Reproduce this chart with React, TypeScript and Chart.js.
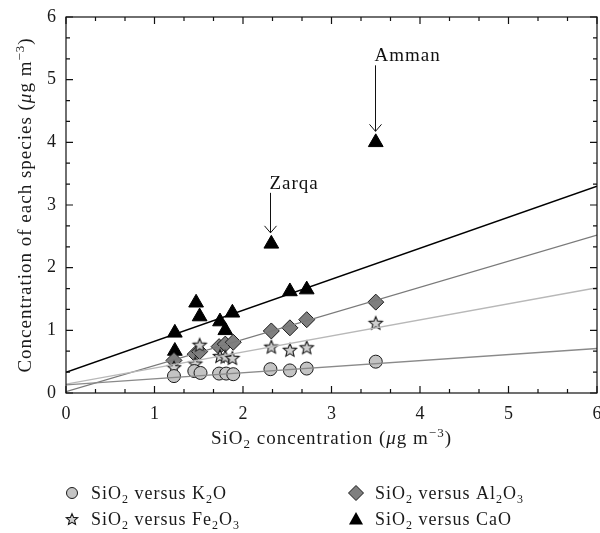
import React, { useEffect, useRef } from "react";
import { Chart, registerables } from "chart.js";

Chart.register(...registerables);

const FONT = '"Liberation Serif", "DejaVu Serif", serif';

// ---- data ----
const xTickValues = [0, 1, 2, 3, 4, 5, 6];
const yTickValues = [0, 1, 2, 3, 4, 5, 6];

const k2oX = [1.22, 1.45, 1.52, 1.73, 1.81, 1.89, 2.31, 2.53, 2.72, 3.5];
const k2oY = [0.27, 0.35, 0.32, 0.31, 0.31, 0.3, 0.38, 0.36, 0.39, 0.5];

const fe2o3X = [1.22, 1.46, 1.51, 1.74, 1.8, 1.88, 2.32, 2.53, 2.72, 3.5];
const fe2o3Y = [0.41, 0.47, 0.77, 0.59, 0.58, 0.56, 0.74, 0.69, 0.73, 1.12];

const al2o3X = [1.22, 1.46, 1.51, 1.73, 1.8, 1.89, 2.32, 2.53, 2.72, 3.5];
const al2o3Y = [0.52, 0.62, 0.66, 0.74, 0.78, 0.81, 0.99, 1.04, 1.17, 1.45];

const caoX = [1.23, 1.23, 1.47, 1.51, 1.74, 1.8, 1.88, 2.32, 2.53, 2.72, 3.5];
const caoY = [0.96, 0.67, 1.44, 1.22, 1.14, 1.0, 1.28, 2.38, 1.62, 1.65, 4.0];

const fitX = [0, 6];
const k2oFit = [0.13, 0.71];
const fe2o3Fit = [0.14, 1.68];
const al2o3Fit = [0.02, 2.52];
const caoFit = [0.33, 3.3];

const annotationNames = ["Amman", "Zarqa"];
const annotationX = [3.5, 2.32];
const annotationY = [4.0, 2.38];

// markup: _x subscript (one char), ^{..} superscript, $..$ italic
const legendLabels = [
  "SiO_2 versus K_2O",
  "SiO_2 versus Al_2O_3",
  "SiO_2 versus Fe_2O_3",
  "SiO_2 versus CaO",
];
const xTitle = "SiO_2 concentration ($μ$g m^{−3})";
const yTitle = "Concentration of each species ($μ$g m^{−3})";

const plain = (s: string) =>
  s.replace(/\$/g, "").replace(/_(.)/g, (_, c) => "₀₁₂₃₄₅₆₇₈₉"[+c] ?? c).replace(/\^\{([^}]*)\}/g, "$1");

type Seg = { t: string; k: "n" | "sub" | "sup" | "it" };
function parse(s: string): Seg[] {
  const out: Seg[] = [];
  let buf = "";
  const flush = () => {
    if (buf) out.push({ t: buf, k: "n" });
    buf = "";
  };
  for (let i = 0; i < s.length; i++) {
    const c = s[i];
    if (c === "_") {
      flush();
      out.push({ t: s[i + 1], k: "sub" });
      i++;
    } else if (c === "^" && s[i + 1] === "{") {
      flush();
      const j = s.indexOf("}", i);
      out.push({ t: s.slice(i + 2, j), k: "sup" });
      i = j;
    } else if (c === "$") {
      flush();
      const j = s.indexOf("$", i + 1);
      out.push({ t: s.slice(i + 1, j), k: "it" });
      i = j;
    } else buf += c;
  }
  flush();
  return out;
}

function segFont(k: string, size: number) {
  if (k === "sub" || k === "sup") return `${Math.round(size * 0.68)}px ${FONT}`;
  if (k === "it") return `italic ${size}px ${FONT}`;
  return `${size}px ${FONT}`;
}

function drawRich(
  ctx: CanvasRenderingContext2D,
  s: string,
  x: number,
  y: number,
  size: number,
  align: "left" | "center",
  spacing = 1
) {
  const segs = parse(s);
  ctx.save();
  ctx.textBaseline = "alphabetic";
  ctx.textAlign = "left";
  (ctx as any).letterSpacing = `${spacing}px`;
  let total = 0;
  const widths = segs.map((g) => {
    ctx.font = segFont(g.k, size);
    const w = ctx.measureText(g.t).width;
    total += w;
    return w;
  });
  let cx = align === "center" ? x - total / 2 : x;
  segs.forEach((g, i) => {
    ctx.font = segFont(g.k, size);
    let dy = 0;
    if (g.k === "sub") dy = size * 0.22;
    if (g.k === "sup") dy = -size * 0.38;
    ctx.fillText(g.t, cx, y + dy);
    cx += widths[i];
  });
  ctx.restore();
}

function makeStar(r: number) {
  const c = document.createElement("canvas");
  const s = Math.ceil(r * 2 + 4);
  c.width = s;
  c.height = s;
  const ctx = c.getContext("2d")!;
  const cx = s / 2;
  const cy = s / 2 + r * 0.1;
  ctx.beginPath();
  for (let i = 0; i < 10; i++) {
    const rr = i % 2 === 0 ? r : r * 0.45;
    const a = -Math.PI / 2 + (i * Math.PI) / 5;
    const px = cx + rr * Math.cos(a);
    const py = cy + rr * Math.sin(a);
    if (i === 0) ctx.moveTo(px, py);
    else ctx.lineTo(px, py);
  }
  ctx.closePath();
  ctx.fillStyle = "#cfcfcf";
  ctx.fill();
  ctx.strokeStyle = "#1a1a1a";
  ctx.lineWidth = 1.1;
  ctx.stroke();
  return c;
}

const decorPlugin = {
  id: "decor",
  afterDatasetsDraw(chart: any) {
    const ctx: CanvasRenderingContext2D = chart.ctx;
    const { left, right, top, bottom } = chart.chartArea;
    const xs = chart.scales.x;
    const ys = chart.scales.y;
    ctx.save();
    ctx.strokeStyle = "#111";
    ctx.lineWidth = 1.2;
    ctx.strokeRect(left, top, right - left, bottom - top);
    // ticks (inside) on four sides
    for (let v = 0; v <= 6.0001; v += 1 / 3) {
      const major = Math.abs(v - Math.round(v)) < 1e-6;
      const len = major ? 7 : 4;
      const px = xs.getPixelForValue(v);
      const py = ys.getPixelForValue(v);
      ctx.beginPath();
      ctx.moveTo(px, bottom);
      ctx.lineTo(px, bottom - len);
      ctx.moveTo(px, top);
      ctx.lineTo(px, top + len);
      ctx.moveTo(left, py);
      ctx.lineTo(left + len, py);
      ctx.moveTo(right, py);
      ctx.lineTo(right - len, py);
      ctx.stroke();
    }
    // annotations
    ctx.fillStyle = "#111";
    ctx.lineWidth = 1;
    const lens = [66, 40];
    annotationNames.forEach((name, i) => {
      const px = Math.round(xs.getPixelForValue(annotationX[i])) - 0.5;
      const py = ys.getPixelForValue(annotationY[i]);
      const tip = py - 11;
      const start = tip - lens[i];
      ctx.beginPath();
      ctx.moveTo(px, start);
      ctx.lineTo(px, tip);
      ctx.moveTo(px - 6, tip - 7);
      ctx.lineTo(px, tip);
      ctx.lineTo(px + 6, tip - 7);
      ctx.stroke();
      ctx.save();
      ctx.font = `19px ${FONT}`;
      (ctx as any).letterSpacing = "1px";
      ctx.textAlign = "left";
      ctx.textBaseline = "alphabetic";
      ctx.fillText(name, px - 1, start - 4);
      ctx.restore();
    });
    ctx.restore();
  },
  afterDraw(chart: any) {
    const ctx: CanvasRenderingContext2D = chart.ctx;
    const { left, right, top, bottom } = chart.chartArea;
    ctx.save();
    ctx.fillStyle = "#1a1a1a";
    // axis titles
    drawRich(ctx, xTitle, (left + right) / 2, 444, 19, "center");
    ctx.save();
    ctx.translate(31, (top + bottom) / 2);
    ctx.rotate(-Math.PI / 2);
    drawRich(ctx, yTitle, 0, 0, 19, "center");
    ctx.restore();
    // legend
    const star = makeStar(6);
    const pos = [
      [72, 493],
      [356, 493],
      [72, 519],
      [356, 519],
    ];
    const kinds = [0, 2, 1, 3]; // K2O, Al2O3, Fe2O3, CaO
    kinds.forEach((kind, idx) => {
      const [mx, my] = pos[idx];
      ctx.save();
      ctx.lineWidth = 1;
      ctx.strokeStyle = "#1a1a1a";
      if (kind === 0) {
        ctx.beginPath();
        ctx.arc(mx, my, 5.5, 0, Math.PI * 2);
        ctx.fillStyle = "#c4c4c4";
        ctx.fill();
        ctx.stroke();
      } else if (kind === 1) {
        ctx.drawImage(star, mx - star.width / 2, my - star.height / 2);
      } else if (kind === 2) {
        ctx.beginPath();
        ctx.moveTo(mx, my - 7.5);
        ctx.lineTo(mx + 7.5, my);
        ctx.lineTo(mx, my + 7.5);
        ctx.lineTo(mx - 7.5, my);
        ctx.closePath();
        ctx.fillStyle = "#7f7f7f";
        ctx.fill();
        ctx.stroke();
      } else {
        ctx.beginPath();
        ctx.moveTo(mx, my - 7);
        ctx.lineTo(mx + 7, my + 5.5);
        ctx.lineTo(mx - 7, my + 5.5);
        ctx.closePath();
        ctx.fillStyle = "#000";
        ctx.fill();
      }
      ctx.restore();
      ctx.fillStyle = "#1a1a1a";
      drawRich(ctx, legendLabels[[0, 2, 1, 3][kind]], mx + 19, my + 6, 18, "left");
    });
    ctx.restore();
  },
};

export default function App() {
  const ref = useRef<HTMLCanvasElement | null>(null);
  useEffect(() => {
    document.body.style.margin = "0";
    const canvas = ref.current!;
    const starPt = makeStar(7);
    const pts = (xs: number[], ys: number[]) => xs.map((x, i) => ({ x, y: ys[i] }));
    const chart = new Chart(canvas, {
      type: "scatter",
      data: {
        datasets: [
          {
            label: plain(legendLabels[0]),
            data: pts(k2oX, k2oY),
            pointStyle: "circle",
            pointRadius: 6.5,
            backgroundColor: "#c4c4c4",
            borderColor: "#1a1a1a",
            borderWidth: 1,
            order: 2,
          },
          {
            label: plain(legendLabels[2]),
            data: pts(fe2o3X, fe2o3Y),
            pointStyle: starPt as any,
            pointRadius: 7,
            order: 2,
          },
          {
            label: plain(legendLabels[1]),
            data: pts(al2o3X, al2o3Y),
            pointStyle: "rectRot",
            pointRadius: 8,
            backgroundColor: "#7f7f7f",
            borderColor: "#1a1a1a",
            borderWidth: 1,
            order: 2,
          },
          {
            label: plain(legendLabels[3]),
            data: pts(caoX, caoY),
            pointStyle: "triangle",
            pointRadius: 8.5,
            backgroundColor: "#000",
            borderColor: "#000",
            borderWidth: 1,
            order: 2,
          },
          {
            type: "line",
            label: "K2O fit",
            data: pts(fitX, k2oFit),
            borderColor: "#8a8a8a",
            borderWidth: 1.3,
            pointRadius: 0,
            order: 1,
          } as any,
          {
            type: "line",
            label: "Fe2O3 fit",
            data: pts(fitX, fe2o3Fit),
            borderColor: "#b8b8b8",
            borderWidth: 1.3,
            pointRadius: 0,
            order: 1,
          } as any,
          {
            type: "line",
            label: "Al2O3 fit",
            data: pts(fitX, al2o3Fit),
            borderColor: "#7a7a7a",
            borderWidth: 1.3,
            pointRadius: 0,
            order: 1,
          } as any,
          {
            type: "line",
            label: "CaO fit",
            data: pts(fitX, caoFit),
            borderColor: "#000",
            borderWidth: 1.5,
            pointRadius: 0,
            order: 1,
          } as any,
        ],
      },
      options: {
        responsive: false,
        animation: false,
        devicePixelRatio: 1,
        layout: { autoPadding: false, padding: { top: 17, right: 3, left: 0, bottom: 0 } },
        plugins: { legend: { display: false }, tooltip: { enabled: false } },
        scales: {
          x: {
            type: "linear",
            min: 0,
            max: 6,
            afterFit: (s: any) => {
              s.height = 140;
              s.paddingLeft = 0;
              s.paddingRight = 0;
            },
            afterBuildTicks: (s: any) => {
              s.ticks = xTickValues.map((v) => ({ value: v }));
            },
            grid: { display: false, drawTicks: false },
            border: { display: false },
            ticks: { padding: 10, color: "#1a1a1a", font: { family: FONT, size: 18 } },
          },
          y: {
            type: "linear",
            min: 0,
            max: 6,
            afterFit: (s: any) => {
              s.width = 66;
              s.paddingTop = 0;
              s.paddingBottom = 0;
            },
            afterBuildTicks: (s: any) => {
              s.ticks = yTickValues.map((v) => ({ value: v }));
            },
            grid: { display: false, drawTicks: false },
            border: { display: false },
            ticks: { padding: 10, color: "#1a1a1a", font: { family: FONT, size: 18 } },
          },
        },
      },
      plugins: [decorPlugin],
    } as any);
    return () => chart.destroy();
  }, []);
  return <canvas ref={ref} width={600} height={533} style={{ display: "block" }} />;
}
